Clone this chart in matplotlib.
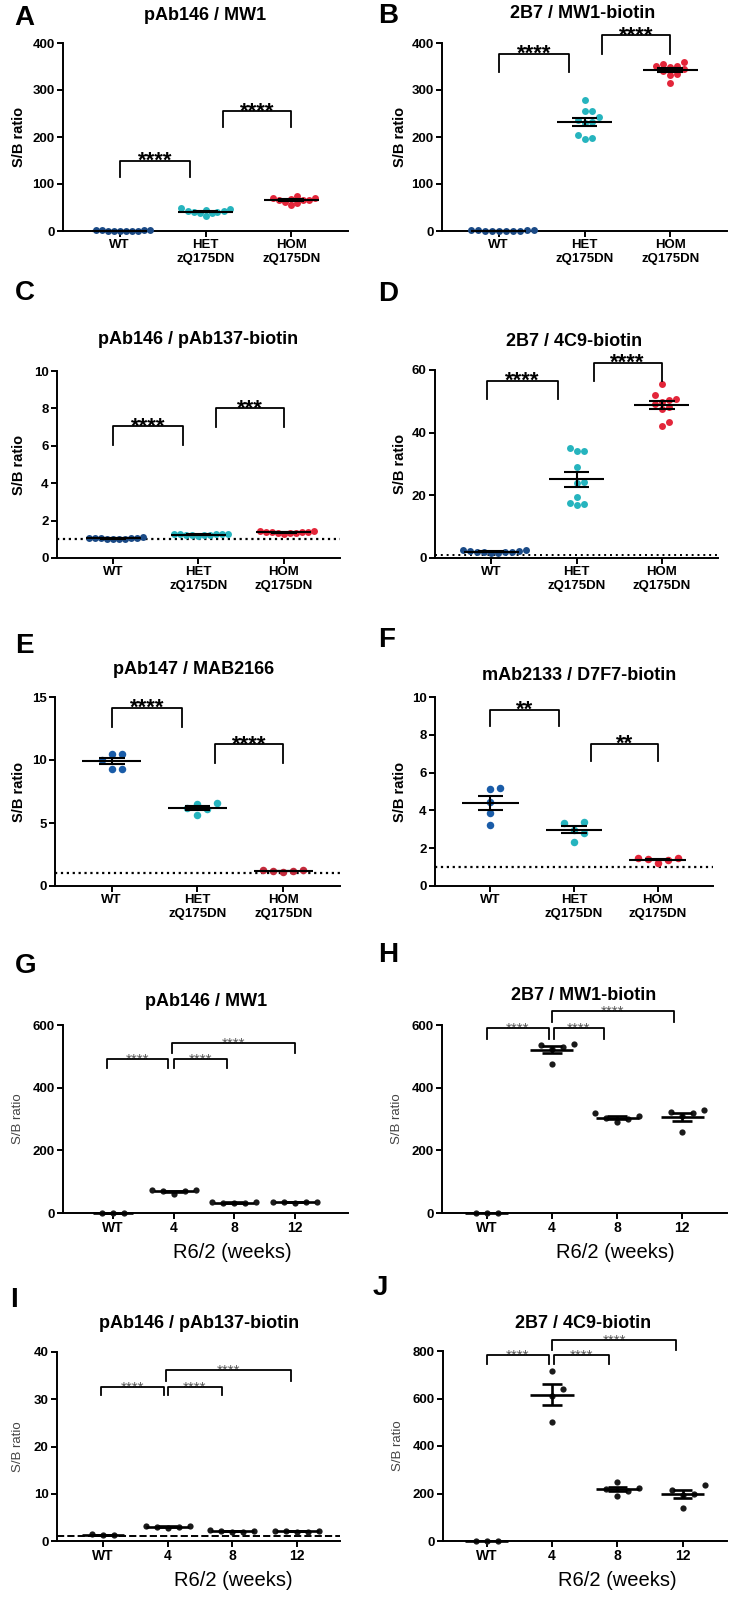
import numpy as np
import matplotlib
matplotlib.use('Agg')
import matplotlib.pyplot as plt

plt.rcParams['font.family'] = ['Liberation Sans', 'DejaVu Sans']

W, H = 735, 1599

# category labels
zq_labels = ['WT', 'HET\nzQ175DN', 'HOM\nzQ175DN']
r62_labels = ['WT', '4', '8', '12']

# A  pAb146 / MW1
a_wt = [1.0, 1.2, 0.9, 1.1, 1.0, 0.8, 1.1, 1.0, 0.9, 1.2]
a_het = [48, 38, 42, 40, 45, 32, 40, 42, 38, 47]
a_hom = [65, 55, 70, 75, 60, 68, 62, 70, 65, 67]
# B  2B7 / MW1-biotin
b_wt = [0.9, 1.1, 1.0, 1.2, 0.8, 1.0, 1.1, 0.9, 1.0, 1.1]
b_het = [278, 256, 256, 242, 236, 232, 230, 196, 204, 198]
b_hom = [360, 350, 340, 352, 352, 332, 315, 335, 345, 355]
# C  pAb146 / pAb137-biotin
c_wt = [1.02, 1.08, 1.05, 1.10, 1.00, 1.06, 1.04, 1.07, 1.03, 1.05]
c_het = [1.22, 1.30, 1.25, 1.28, 1.20, 1.27, 1.24, 1.30, 1.26, 1.23]
c_hom = [1.35, 1.45, 1.30, 1.40, 1.38, 1.42, 1.33, 1.37, 1.40, 1.36]
# D  2B7 / 4C9-biotin
d_wt = [2.5, 1.8, 2.2, 1.5, 2.0, 2.4, 1.7, 2.1, 1.9, 2.0]
d_het = [34.0, 35.2, 34.3, 29.0, 23.9, 24.1, 19.4, 17.0, 17.5, 17.2]
d_hom = [55.4, 52.0, 50.6, 49.9, 49.0, 47.5, 48.3, 43.5, 42.1, 50.5]
# E  pAb147 / MAB2166
e_wt = [10.5, 10.5, 10.0, 9.3, 9.3]
e_het = [6.6, 6.2, 6.15, 6.5, 5.6]
e_hom = [1.2, 1.25, 1.2, 1.25, 1.15]
# F  mAb2133 / D7F7-biotin
f_wt = [5.12, 5.18, 4.47, 3.85, 3.23]
f_het = [3.32, 3.41, 2.97, 2.83, 2.35]
f_hom = [1.38, 1.47, 1.41, 1.47, 1.24]
# G  pAb146 / MW1 (R6/2)
g_wt = [0.6, 1.0, 0.8]
g_4 = [62, 70, 72, 70, 72]
g_8 = [32, 35, 33, 32, 34]
g_12 = [34, 36, 35, 33, 36]
# H  2B7 / MW1-biotin (R6/2)
h_wt = [1.0, 1.0, 1.0]
h_4 = [540, 535, 530, 522, 477]
h_8 = [320, 308, 302, 300, 290]
h_12 = [330, 322, 318, 310, 258]
# I  pAb146 / pAb137-biotin (R6/2)
i_wt = [1.2, 1.4, 1.3]
i_4 = [2.8, 3.0, 3.1, 2.9, 3.2]
i_8 = [2.0, 2.2, 2.1, 2.0, 2.3]
i_12 = [2.0, 2.1, 2.2, 2.0, 2.1]
# J  2B7 / 4C9-biotin (R6/2)
j_wt = [1.0, 1.0, 1.0]
j_4 = [716, 640, 610, 500]
j_8 = [250, 218, 222, 212, 190]
j_12 = [236, 215, 200, 195, 138]

# significance brackets: (x start, x end, top, leg end, stars)
br_a = [(0, 0.82, 150, 115, '****'), (1.2, 2.0, 255, 221, '****')]
br_b = [(0, 0.82, 377, 338, '****'), (1.2, 2.0, 416, 377, '****')]
br_c = [(0, 0.82, 7.06, 6.05, '****'), (1.2, 2.0, 8.0, 7.03, '***')]
br_d = [(-0.05, 0.78, 56.6, 50.6, '****'), (1.2, 2.0, 62.3, 56.6, '****')]
br_e = [(0, 0.82, 14.16, 12.65, '****'), (1.2, 2.0, 11.27, 9.79, '****')]
br_f = [(0, 0.82, 9.33, 8.45, '**'), (1.2, 2.0, 7.53, 6.59, '**')]
br_g = [(-0.1, 0.9, 490, 462, '****'), (1.0, 1.88, 490, 462, '****'), (0.97, 3.0, 541, 512, '****')]
br_h = [(0, 0.95, 589, 555, '****'), (1.03, 1.8, 589, 555, '****'), (1.0, 2.87, 644, 610, '****')]
br_i = [(-0.03, 0.94, 32.6, 30.8, '****'), (1.0, 1.84, 32.6, 30.8, '****'), (0.97, 2.9, 36.1, 33.9, '****')]
br_j = [(0, 0.95, 783, 745, '****'), (1.03, 1.87, 783, 745, '****'), (1.0, 2.9, 846, 804, '****')]

NAVY = '#1b4a86'
BLUE = '#1a5ca8'
TEAL = '#26b4be'
RED = '#e3263a'
DRED = '#c42a3c'

fig = plt.figure(figsize=(W / 100, H / 100), dpi=100)


def fx(x):
    return x / W


def fy(y):
    return 1 - y / H


def make_ax(box, xlim, ylim, yticks):
    x0, x1, yt, yb = box
    ax = fig.add_axes([fx(x0), fy(yb), (x1 - x0) / W, (yb - yt) / H])
    ax.set_xlim(xlim)
    ax.set_ylim(ylim)
    ax.patch.set_alpha(0)
    ax.spines[['top', 'right']].set_visible(False)
    for s in ['left', 'bottom']:
        ax.spines[s].set_linewidth(1.4)
    ax.tick_params(width=1.4, length=4, direction='out', pad=2)
    ax.set_yticks(yticks)
    ax.set_yticklabels([str(int(t)) for t in yticks], fontsize=9.5, fontweight='bold')
    return ax


def swarm(ax, x, vals, sep):
    # spread points sideways so they don't overlap (pixel space)
    xa, xb = ax.get_xlim()
    ya, yb = ax.get_ylim()
    bb = ax.get_position()
    pxx = bb.width * W / (xb - xa)
    pxy = bb.height * H / (yb - ya)
    vals = np.asarray(vals, dtype=float)
    order = np.argsort(vals)
    offs = np.zeros(len(vals))
    placed = []
    for i in order:
        py = vals[i] * pxy
        k = 0
        while True:
            cand = ((k + 1) // 2) * (1 if k % 2 else -1) * sep if k else 0.0
            ok = all((cand - qx) ** 2 + (py - qy) ** 2 >= (sep * 0.98) ** 2 for qx, qy in placed)
            if ok:
                break
            k += 1
        offs[i] = cand
        placed.append((cand, py))
    return x + offs / pxx


def dots(ax, x, vals, color, ms, sep):
    xs = swarm(ax, x, vals, sep)
    ax.plot(xs, vals, 'o', color=color, ms=ms, mew=0, clip_on=False, zorder=3)


def mean_sem(ax, x, vals, hw, cw, lw):
    m = np.mean(vals)
    s = np.std(vals, ddof=1) / np.sqrt(len(vals))
    ax.hlines(m, x - hw, x + hw, color='k', lw=lw, zorder=5, clip_on=False)
    if s > 0:
        ax.vlines(x, m - s, m + s, color='k', lw=lw, zorder=5, clip_on=False)
        ax.hlines([m - s, m + s], x - cw, x + cw, color='k', lw=lw, zorder=5, clip_on=False)


def brackets(ax, brs, fs, weight, color, off, lw):
    for xa, xb, top, leg, lab in brs:
        ax.plot([xa, xa, xb, xb], [leg, top, top, leg], color='k', lw=lw, clip_on=False, zorder=4)
        ax.annotate(lab, (0.5 * (xa + xb), top), xytext=(0, off), textcoords='offset points',
                    ha='center', va='baseline', fontsize=fs, fontweight=weight, color=color,
                    annotation_clip=False)


def labels(title, tpos, letter, lpos, ylab_x, box, bold_ylab=True):
    fig.text(fx(tpos[0]), fy(tpos[1]), title, ha='center', va='center', fontsize=13, fontweight='bold')
    fig.text(fx(lpos[0]), fy(lpos[1]), letter, ha='left', va='center', fontsize=20, fontweight='bold')
    yc = 0.5 * (box[2] + box[3])
    if bold_ylab:
        fig.text(fx(ylab_x), fy(yc), 'S/B ratio', rotation=90, ha='center', va='center',
                 fontsize=10.5, fontweight='bold')
    else:
        fig.text(fx(ylab_x), fy(yc), 'S/B ratio', rotation=90, ha='center', va='center',
                 fontsize=9.5, color='#444444')


def zq_panel(box, ylim, yticks, groups, colors, brs, title, tpos, letter, lpos, ylab_x,
             ms, sep, hw, refline=None):
    ax = make_ax(box, (-0.66, 2.66), ylim, yticks)
    ax.set_xticks(range(3))
    ax.set_xticklabels(zq_labels, fontsize=9.5, fontweight='bold', linespacing=1.15)
    if refline is not None:
        ax.axhline(1, color='k', lw=refline[1], ls=refline[0], zorder=2)
    for i, (vals, c) in enumerate(zip(groups, colors)):
        dots(ax, i, vals, c, ms, sep)
        mean_sem(ax, i, vals, hw, 0.15, 1.5)
    brackets(ax, brs, 16, 'bold', 'k', -4.5, 1.3)
    labels(title, tpos, letter, lpos, ylab_x, box)
    return ax


def r62_panel(box, xlim, ylim, yticks, groups, brs, title, tpos, letter, lpos, ylab_x, xlab_pos,
              refline=None):
    ax = make_ax(box, xlim, ylim, yticks)
    ax.set_xticks(range(4))
    ax.set_xticklabels(r62_labels, fontsize=10, fontweight='bold')
    if refline is not None:
        ax.axhline(1, color='k', lw=refline[1], ls=refline[0], zorder=2)
    for i, vals in enumerate(groups):
        dots(ax, i, vals, '#1a1a1a', 4.5, 11)
        mean_sem(ax, i, vals, 0.33, 0.15, 1.9)
    brackets(ax, brs, 11, 'normal', '#555555', -3.3, 1.3)
    labels(title, tpos, letter, lpos, ylab_x, box, bold_ylab=False)
    fig.text(fx(xlab_pos[0]), fy(xlab_pos[1]), 'R6/2 (weeks)', ha='center', va='center', fontsize=14.5)
    return ax


zq_panel((63, 348, 43, 231), (0, 400), range(0, 401, 100), [a_wt, a_het, a_hom],
         [NAVY, TEAL, RED], br_a, 'pAb146 / MW1', (205, 16), 'A', (14, 18), 19, 5.0, 6, 0.32)
zq_panel((442, 727, 43, 231), (0, 400), range(0, 401, 100), [b_wt, b_het, b_hom],
         [NAVY, TEAL, RED], br_b, '2B7 / MW1-biotin', (583, 14), 'B', (378, 16), 400, 5.0, 7, 0.32)
zq_panel((57, 340, 371, 558), (0, 10), range(0, 11, 2), [c_wt, c_het, c_hom],
         [NAVY, TEAL, RED], br_c, 'pAb146 / pAb137-biotin', (198, 340), 'C', (15, 293), 19, 5.0, 6, 0.32,
         refline=(':', 1.6))
zq_panel((435, 718, 370, 558), (0, 60), range(0, 61, 20), [d_wt, d_het, d_hom],
         [NAVY, TEAL, RED], br_d, '2B7 / 4C9-biotin', (574, 342), 'D', (378, 294), 400, 5.0, 7, 0.32,
         refline=((0, (1, 2)), 1.4))
zq_panel((55, 340, 697, 886), (0, 15), range(0, 16, 5), [e_wt, e_het, e_hom],
         [BLUE, TEAL, DRED], br_e, 'pAb147 / MAB2166', (194, 670), 'E', (15, 646), 19, 5.4, 10, 0.34,
         refline=(':', 1.6))
zq_panel((435, 713, 697, 886), (0, 10), range(0, 11, 2), [f_wt, f_het, f_hom],
         [BLUE, TEAL, RED], br_f, 'mAb2133 / D7F7-biotin', (579, 675), 'F', (378, 640), 400, 5.4, 10, 0.34,
         refline=(':', 1.6))

r62_panel((63, 348, 1025, 1213), (-0.82, 3.87), (0, 600), range(0, 601, 200), [g_wt, g_4, g_8, g_12],
          br_g, 'pAb146 / MW1', (206, 1002), 'G', (15, 966), 18, (232, 1253))
r62_panel((442, 727, 1025, 1213), (-0.69, 3.69), (0, 600), range(0, 601, 200), [h_wt, h_4, h_8, h_12],
          br_h, '2B7 / MW1-biotin', (584, 996), 'H', (378, 955), 397, (615, 1253))
r62_panel((57, 340, 1352, 1541), (-0.71, 3.66), (0, 40), range(0, 41, 10), [i_wt, i_4, i_8, i_12],
          br_i, 'pAb146 / pAb137-biotin', (199, 1323), 'I', (10, 1300), 18, (233, 1581),
          refline=('--', 1.4))
r62_panel((443, 727, 1351, 1541), (-0.67, 3.68), (0, 800), range(0, 801, 200), [j_wt, j_4, j_8, j_12],
          br_j, '2B7 / 4C9-biotin', (583, 1323), 'J', (373, 1288), 398, (617, 1581),
          refline=('--', 1.0))

fig.savefig('out.png', dpi=100)
